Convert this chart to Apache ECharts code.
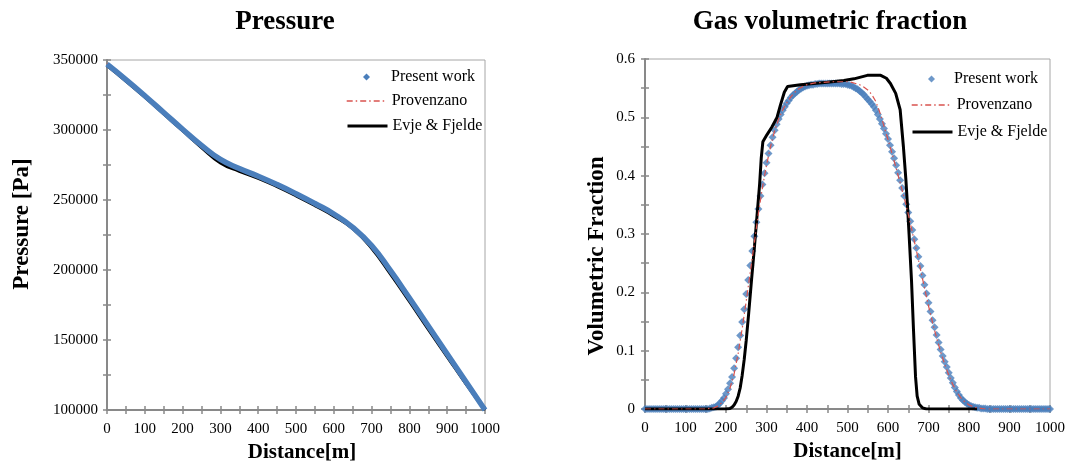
<!DOCTYPE html>
<html>
<head>
<meta charset="utf-8">
<script src="https://cdn.jsdelivr.net/npm/echarts@6.0.0/dist/echarts.min.js"></script>
<style>
html, body { margin: 0; padding: 0; background: #fff; }
#main { width: 1066px; height: 465px; }
</style>
</head>
<body>
<div id="main"></div>
<script>
var chart;
// --- pressure chart, read every 50 m ---
var presDist = [0, 50, 100, 150, 200, 250, 300, 350, 400, 450, 500, 550, 600, 650, 700, 750, 800, 850, 900, 950, 1000];
var presWork = [347000, 336000, 324500, 312500, 300500, 289000, 279000, 272500, 267000, 261000, 254500, 247500, 240000, 230500, 217500, 199500, 180000, 160000, 140000, 120000, 100000];
var presProv = [347500, 336500, 325000, 313000, 301000, 289500, 279500, 273000, 267500, 261500, 255000, 248000, 240500, 231000, 218000, 200000, 180500, 160500, 140500, 120500, 100000];
var presEvje = [346000, 335000, 323500, 311500, 299500, 287500, 276500, 270500, 265500, 259500, 253000, 246000, 238500, 229500, 215500, 197000, 177500, 157500, 138000, 118500, 100000];

// --- gas volumetric fraction ---
// present work: one point every 5 m, from 0 to 1000
var gasStep = 5;
var gasWork = [
  0, 0, 0, 0, 0, 0, 0, 0, 0, 0, 0, 0, 0, 0, 0, 0, 0, 0, 0, 0, 0, 0, 0, 0, 0, 0, 0, 0, 0, 0,
  0, 0, 0.001, 0.002, 0.003, 0.004, 0.007, 0.010, 0.014, 0.019,
  0.026, 0.034, 0.044, 0.055, 0.070, 0.087, 0.106, 0.126, 0.149, 0.171,
  0.197, 0.221, 0.246, 0.271, 0.296, 0.320, 0.343, 0.365, 0.385, 0.404,
  0.422, 0.438, 0.452, 0.466, 0.478, 0.488, 0.497, 0.505, 0.512, 0.518,
  0.524, 0.529, 0.534, 0.538, 0.541, 0.544, 0.547, 0.549, 0.551, 0.553,
  0.554, 0.555, 0.556, 0.556, 0.557, 0.557, 0.558, 0.558, 0.558, 0.558,
  0.558, 0.558, 0.558, 0.558, 0.558, 0.558, 0.558, 0.557, 0.557, 0.557,
  0.556, 0.555, 0.554, 0.552, 0.550, 0.548, 0.545, 0.542, 0.539, 0.535,
  0.531, 0.527, 0.523, 0.518, 0.512, 0.505, 0.497, 0.489, 0.481, 0.472,
  0.463, 0.452, 0.441, 0.430, 0.418, 0.405, 0.392, 0.379, 0.365, 0.351,
  0.337, 0.322, 0.307, 0.291, 0.276, 0.261, 0.245, 0.229, 0.213, 0.198,
  0.182, 0.167, 0.152, 0.140, 0.127, 0.114, 0.102, 0.091, 0.081, 0.072,
  0.062, 0.053, 0.045, 0.037, 0.030, 0.024, 0.019, 0.015, 0.012, 0.009,
  0.007, 0.005, 0.004, 0.003, 0.002, 0.002, 0.001, 0.001, 0.001,
  0, 0, 0, 0, 0, 0, 0, 0, 0, 0, 0, 0, 0, 0, 0, 0, 0, 0, 0, 0, 0, 0, 0, 0, 0, 0, 0, 0, 0, 0, 0, 0
];
var provDist = [0, 100, 150, 160, 170, 180, 190, 200, 210, 220, 230, 240, 250, 260, 270, 280, 290, 300, 310, 320, 330, 340, 350, 360, 370, 380, 390, 400,
  420, 440, 460, 480, 500, 510, 520, 530, 540, 550, 560, 570, 580, 590, 600, 610, 620, 630, 640, 650, 660, 670, 680, 690, 700,
  710, 720, 730, 740, 750, 760, 770, 780, 790, 800, 810, 820, 830, 840, 900, 1000];
var provFrac = [0, 0, 0, 0.001, 0.002, 0.005, 0.011, 0.020, 0.036, 0.060, 0.095, 0.138, 0.185, 0.235, 0.285, 0.335, 0.380, 0.418, 0.450, 0.477, 0.497, 0.513, 0.525, 0.535, 0.543, 0.549, 0.553, 0.556,
  0.559, 0.560, 0.561, 0.561, 0.561, 0.560, 0.558, 0.556, 0.552, 0.547, 0.539, 0.527, 0.508, 0.485, 0.462, 0.438, 0.413, 0.388, 0.362, 0.334, 0.303, 0.272, 0.240, 0.208, 0.177,
  0.148, 0.122, 0.098, 0.077, 0.058, 0.042, 0.029, 0.019, 0.012, 0.007, 0.004, 0.002, 0.001, 0, 0, 0];
var evjeDist = [0, 200, 210, 215, 220, 225, 230, 235, 240, 245, 250, 256, 263, 270, 277, 283, 287, 291, 301, 313, 326, 334, 344, 352,
  384, 450, 491, 516, 549, 582, 596, 606, 619, 630, 638, 644, 648, 652, 658, 663, 668, 672, 677, 685, 695, 820];
var evjeFrac = [0, 0, 0.001, 0.003, 0.007, 0.013, 0.022, 0.036, 0.058, 0.085, 0.118, 0.164, 0.221, 0.276, 0.335, 0.385, 0.430, 0.458, 0.470, 0.483, 0.500, 0.520, 0.543, 0.553,
  0.556, 0.560, 0.563, 0.566, 0.572, 0.572, 0.567, 0.558, 0.541, 0.513, 0.450, 0.395, 0.350, 0.300, 0.221, 0.135, 0.055, 0.022, 0.008, 0.002, 0, 0];

var font = 'Liberation Serif';
var grey = '#898989';
var blue = '#4a7ebb';
var red = '#d9534f';

function pairs(xs, ys) {
  return xs.map(function (x, i) { return [x, ys[i]]; });
}
var gasWorkData = gasWork.map(function (v, i) { return [i * gasStep, v]; });

// ticks in the picture cross the axis line, so every axis gets a twin with inside ticks
function axis(gridIndex, min, max, interval, fmt, margin, extra) {
  var a = {
    gridIndex: gridIndex, type: 'value', min: min, max: max, interval: interval,
    axisLine: { show: true, onZero: false, lineStyle: { color: grey, width: 2 } },
    axisTick: { show: true, length: 4, lineStyle: { color: grey, width: 1.5 } },
    minorTick: { show: true, splitNumber: 2, length: 4, lineStyle: { color: grey, width: 1.5 } },
    axisLabel: { color: '#000', fontFamily: font, fontSize: 15, margin: margin, formatter: fmt },
    splitLine: { show: false }
  };
  for (var k in extra) a[k] = extra[k];
  return a;
}
function twin(gridIndex, min, max, interval, pos) {
  return {
    gridIndex: gridIndex, type: 'value', min: min, max: max, interval: interval, position: pos,
    axisLine: { show: false, onZero: false },
    axisTick: { show: true, inside: true, length: 4, lineStyle: { color: grey, width: 1.5 } },
    minorTick: { show: true, splitNumber: 2, length: 4, lineStyle: { color: grey, width: 1.5 } },
    axisLabel: { show: false },
    splitLine: { show: false }
  };
}
function nameStyle(size, pad) {
  return { fontFamily: font, fontSize: size, fontWeight: 'bold', color: '#000', padding: pad };
}
function plain(v) { return String(v); }
function oneDec(v) { return String(Math.round(v * 10) / 10); }

// one legend per entry so each row can sit where it does in the picture
function legendLine(name, left, top, w) {
  return {
    left: left, top: top, padding: 0, itemWidth: 40, itemHeight: 12, selectedMode: false,
    itemStyle: { opacity: 0 },   // hides the round marker ECharts puts on line icons
    lineStyle: { width: w },
    textStyle: { fontFamily: font, fontSize: 16, color: '#000' },
    data: [name]
  };
}
function legendDot(name, left, top, textPad) {
  return {
    left: left, top: top, padding: 0, itemWidth: 7, itemHeight: 7, selectedMode: false,
    textStyle: { fontFamily: font, fontSize: 16, color: '#000', padding: [0, 0, 0, textPad] },
    data: [{ name: name, icon: 'diamond' }]
  };
}

chart = echarts.init(document.getElementById('main'));
var option = {
  backgroundColor: '#fff',
  animation: false,
  title: [
    { text: 'Pressure', left: 280, top: 4, textAlign: 'center',
      textStyle: { fontFamily: font, fontSize: 27, fontWeight: 'bold', color: '#000' } },
    { text: 'Gas volumetric fraction', left: 825, top: 4, textAlign: 'center',
      textStyle: { fontFamily: font, fontSize: 27, fontWeight: 'bold', color: '#000' } }
  ],
  legend: [
    legendDot('Present work', 363, 69, 16),
    legendLine('Provenzano', 346, 93, 1.4),
    legendLine('Evje & Fjelde', 346, 118, 3),
    legendDot('Present work ', 928, 71, 14),
    legendLine('Provenzano ', 911, 97, 1.4),
    legendLine('Evje & Fjelde ', 911, 124, 3)
  ],
  grid: [
    { left: 107, top: 60, width: 378, height: 350, show: true, borderColor: '#a6a6a6', borderWidth: 1, outerBoundsMode: 'none' },
    { left: 645, top: 59, width: 405, height: 350, show: true, borderColor: '#a6a6a6', borderWidth: 1, outerBoundsMode: 'none' }
  ],
  xAxis: [
    axis(0, 0, 1000, 100, plain, 12, { position: 'bottom', name: 'Distance[m]', nameLocation: 'middle', nameGap: 31, nameTextStyle: nameStyle(21, [0, 0, 0, 12]) }),
    twin(0, 0, 1000, 100, 'bottom'),
    axis(1, 0, 1000, 100, plain, 12, { position: 'bottom', name: 'Distance[m]', nameLocation: 'middle', nameGap: 31, nameTextStyle: nameStyle(21, [0, 0, 0, 0]) }),
    twin(1, 0, 1000, 100, 'bottom')
  ],
  yAxis: [
    axis(0, 100000, 350000, 50000, plain, 9, { position: 'left', name: 'Pressure [Pa]', nameLocation: 'middle', nameGap: 73, nameTextStyle: nameStyle(23, [0, 0, 0, 22]) }),
    twin(0, 100000, 350000, 50000, 'left'),
    axis(1, 0, 0.6, 0.1, oneDec, 10, { position: 'left', name: 'Volumetric Fraction', nameLocation: 'middle', nameGap: 36, nameTextStyle: nameStyle(23, [0, 44, 0, 0]) }),
    twin(1, 0, 0.6, 0.1, 'left')
  ],
  series: [
    // pressure
    { name: 'Evje & Fjelde', type: 'line', xAxisIndex: 0, yAxisIndex: 0, symbol: 'none', smooth: true,
      lineStyle: { color: '#000', width: 3 }, itemStyle: { color: '#000' }, data: pairs(presDist, presEvje) },
    { name: 'Provenzano', type: 'line', xAxisIndex: 0, yAxisIndex: 0, symbol: 'none', smooth: true,
      lineStyle: { color: red, width: 1.2, type: [6, 3, 1.5, 3] }, itemStyle: { color: red }, data: pairs(presDist, presProv) },
    { name: 'Present work', type: 'line', xAxisIndex: 0, yAxisIndex: 0, symbol: 'none', smooth: true,
      lineStyle: { color: blue, width: 5.5 }, itemStyle: { color: blue }, data: pairs(presDist, presWork) },
    // gas fraction
    { name: 'Evje & Fjelde ', type: 'line', xAxisIndex: 2, yAxisIndex: 2, symbol: 'none',
      lineStyle: { color: '#000', width: 3 }, itemStyle: { color: '#000' }, data: pairs(evjeDist, evjeFrac) },
    { name: 'Provenzano ', type: 'line', xAxisIndex: 2, yAxisIndex: 2, symbol: 'none',
      lineStyle: { color: red, width: 1.2, type: [6, 3, 1.5, 3] }, itemStyle: { color: red }, data: pairs(provDist, provFrac) },
    { name: 'Present work ', type: 'scatter', xAxisIndex: 2, yAxisIndex: 2, symbol: 'diamond', symbolSize: 8,
      itemStyle: { color: blue }, data: gasWorkData }
  ]
};
chart.setOption(option);
</script>
</body>
</html>
